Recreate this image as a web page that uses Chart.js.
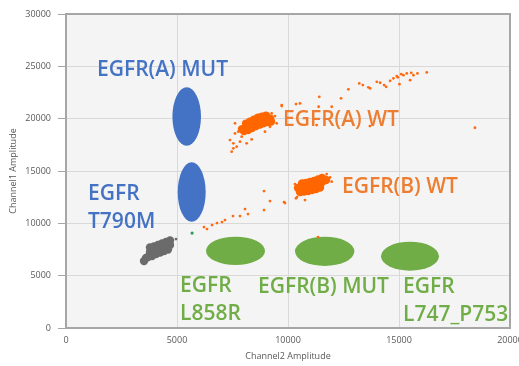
<!DOCTYPE html>
<html>
<head>
<meta charset="utf-8">
<script src="https://cdn.jsdelivr.net/npm/chart.js@4.4.0/dist/chart.umd.min.js"></script>
<style>
html, body { margin: 0; padding: 0; background: #fff; }
</style>
</head>
<body>
<canvas id="ddpcrCtx" width="519" height="366"></canvas>
<script>
// droplet amplitudes, [Channel2, Channel1]
var negCore = [
    [3514, 6399], [3604, 6685], [3694, 6781], [3784, 7258], [3964, 7354], [4145, 7497],
    [4325, 7640], [4505, 7783], [4685, 7927], [3784, 7688], [3964, 7783], [4145, 7927],
    [4325, 8070], [4505, 8213], [4685, 8356], [3874, 6876], [4054, 7067], [4235, 7210],
    [4415, 7354], [4595, 7497]
]
var negRain = [[4955, 8500], [3560, 6250], [4760, 8450]]
var greenDrop = [[5680, 9070]]

var aWtCore = [
    [7929, 19005], [8109, 19196], [8289, 19387], [8469, 19578], [8650, 19769], [8830, 19864],
    [9010, 19960], [9190, 20007], [8109, 19530], [8289, 19721], [8469, 19912], [8650, 20103],
    [8830, 20198], [9010, 20294], [8019, 18814], [8199, 18909], [8379, 19100], [8560, 19291],
    [8740, 19434], [8920, 19578], [9100, 19673], [9235, 19721]
]
var aWtRain = [
    [7613, 19551], [7387, 17956], [7463, 16843], [7538, 17640], [7688, 17320], [7838, 17798],
    [7913, 18275], [7613, 18594], [8138, 17640], [8363, 18021], [7538, 17163], [7763, 18753],
    [9264, 20504], [9414, 20248], [9715, 21299], [9189, 19226], [9490, 19551], [8964, 18753],
    [9720, 21200], [10360, 21390], [10540, 21460], [11410, 22090], [12390, 21940], [12720, 22800],
    [13210, 23370], [13370, 23210], [13620, 22990], [13700, 22890], [14000, 23520], [14150, 23430],
    [14330, 23210], [14420, 23040], [14600, 23620], [14750, 23850], [14900, 24070], [15020, 23300],
    [15200, 24160], [15350, 24320], [15500, 23680], [15650, 24160], [15830, 24320], [16250, 24420],
    [15100, 24250], [15550, 24380], [14950, 23950], [18420, 19130], [11380, 21140], [11970, 21140],
    [11290, 19390], [13690, 19290]
]

var bWtCore = [
    [10452, 13370], [10632, 13418], [10812, 13466], [10992, 13561], [11172, 13657], [11353, 13800],
    [11533, 13943], [11713, 14134], [10632, 13800], [10812, 13848], [10992, 13943], [11172, 14039],
    [11353, 14182], [11533, 14325], [10542, 12988], [10722, 13036], [10902, 13084], [11082, 13179],
    [11263, 13275], [11443, 13418]
]
var bWtRain = [
    [6216, 9647], [6351, 9456], [6577, 9838], [6802, 10029], [7027, 10124], [7162, 10315],
    [7523, 10697], [7838, 10697], [8063, 11366], [8198, 10888], [8919, 11270], [9189, 12130],
    [8919, 13085], [9820, 12034], [9865, 11939], [10405, 12512], [10315, 13754], [10360, 12385],
    [11592, 14518], [11892, 14390], [11967, 13977], [11742, 14709], [10766, 12226], [11353, 8690]
]

var xTicks = [0, 5000, 10000, 15000, 20000]
var yTicks = [0, 5000, 10000, 15000, 20000, 25000, 30000]

var BLUE = '#4472c4', ORANGE = '#ed7d31', GREEN = '#70ad47'

// cluster call-outs, in data units
var marks = [
    {x: 5437, y: 20200, rx: 644, ry: 2790, color: BLUE},
    {x: 5662, y: 12990, rx: 630, ry: 2835, color: BLUE},
    {x: 7635, y: 7375, rx: 1329, ry: 1355, color: GREEN},
    {x: 11652, y: 7326, rx: 1336, ry: 1400, color: GREEN},
    {x: 15495, y: 6860, rx: 1306, ry: 1385, color: GREEN}
]
var tags = [
    {text: 'EGFR(A) MUT', x: 1396, y: 24050, color: BLUE},
    {text: 'EGFR', x: 991, y: 12225, color: BLUE},
    {text: 'T790M', x: 991, y: 9551, color: BLUE},
    {text: 'EGFR(A) WT', x: 9775, y: 19293, color: ORANGE},
    {text: 'EGFR(B) WT', x: 12432, y: 12894, color: ORANGE},
    {text: 'EGFR', x: 5135, y: 3438, color: GREEN},
    {text: 'L858R', x: 5135, y: 764, color: GREEN},
    {text: 'EGFR(B) MUT', x: 8649, y: 3343, color: GREEN},
    {text: 'EGFR', x: 15180, y: 3343, color: GREEN},
    {text: 'L747_P753', x: 15180, y: 669, color: GREEN}
]

function pts(arr) {
    return arr.map(function(p) { return {x: p[0], y: p[1]} })
}

function series(arr, color, r) {
    return {
        data: pts(arr),
        backgroundColor: color,
        pointBackgroundColor: color,
        pointBorderWidth: 0,
        borderWidth: 0,
        pointRadius: r,
        pointHoverRadius: r
    }
}

var plotDeco = {
    id: 'plotDeco',
    beforeDraw: function(chart) {
        var a = chart.chartArea, c = chart.ctx
        c.save()
        c.fillStyle = '#f4f4f4'
        c.fillRect(a.left, a.top, a.right - a.left, a.bottom - a.top)
        c.restore()
    },
    beforeDatasetsDraw: function(chart) {
        var c = chart.ctx, sx = chart.scales.x, sy = chart.scales.y
        c.save()
        marks.forEach(function(m) {
            var cx = sx.getPixelForValue(m.x), cy = sy.getPixelForValue(m.y)
            var rx = Math.abs(sx.getPixelForValue(m.x + m.rx) - cx)
            var ry = Math.abs(sy.getPixelForValue(m.y + m.ry) - cy)
            c.beginPath()
            c.ellipse(cx, cy, rx, ry, 0, 0, Math.PI * 2)
            c.fillStyle = m.color
            c.fill()
        })
        c.restore()
    },
    afterDatasetsDraw: function(chart) {
        var a = chart.chartArea, c = chart.ctx
        c.save()
        c.strokeStyle = '#a6a6a6'
        c.lineWidth = 2
        c.strokeRect(a.left, a.top, a.right - a.left, a.bottom - a.top)
        c.restore()
    },
    afterDraw: function(chart) {
        var c = chart.ctx, sx = chart.scales.x, sy = chart.scales.y
        c.save()
        c.font = '600 21px "Open Sans"'
        c.textBaseline = 'alphabetic'
        c.textAlign = 'left'
        tags.forEach(function(t) {
            c.fillStyle = t.color
            c.fillText(t.text, sx.getPixelForValue(t.x), sy.getPixelForValue(t.y))
        })
        c.restore()
    }
}

var tickFont = {family: '"Open Sans"', size: 9}

new Chart(document.getElementById('ddpcrCtx'), {
    type: 'scatter',
    data: {
        datasets: [
            series(negCore, '#6b6b6b', 4.2),
            series(negRain, '#6b6b6b', 1.4),
            series(greenDrop, '#2f9a55', 1.6),
            series(aWtCore, '#ff6600', 4.2),
            series(aWtRain, '#ff6a10', 1.4),
            series(bWtCore, '#ff6600', 4.2),
            series(bWtRain, '#ff6a10', 1.4)
        ]
    },
    options: {
        responsive: false,
        animation: false,
        devicePixelRatio: 1,
        layout: {padding: {top: 14, right: 9, left: 0, bottom: 0}},
        plugins: {legend: {display: false}, tooltip: {enabled: false}},
        scales: {
            x: {
                type: 'linear', min: 0, max: 20000,
                afterBuildTicks: function(s) { s.ticks = xTicks.map(function(v) { return {value: v} }) },
                afterFit: function(s) { s.height = 38; s.paddingLeft = 0; s.paddingRight = 0 },
                ticks: {font: tickFont, color: '#595959', padding: 7, maxRotation: 0,
                    callback: function(v) { return String(v) }},
                grid: {color: '#d9d9d9', lineWidth: 1, drawTicks: false},
                border: {display: false},
                title: {display: true, text: 'Channel2 Amplitude', font: tickFont, color: '#595959',
                    padding: {top: 0, bottom: 4}}
            },
            y: {
                type: 'linear', min: 0, max: 30000,
                afterBuildTicks: function(s) { s.ticks = yTicks.map(function(v) { return {value: v} }) },
                afterFit: function(s) { s.width = 66; s.paddingTop = 0; s.paddingBottom = 0 },
                ticks: {font: tickFont, color: '#595959', padding: 7,
                    callback: function(v) { return String(v) }},
                grid: {color: '#d9d9d9', lineWidth: 1, tickLength: 8, tickColor: '#a6a6a6'},
                border: {display: false},
                title: {display: true, text: 'Channel1 Amplitude', font: tickFont, color: '#595959',
                    padding: {top: 8, bottom: 0}}
            }
        }
    },
    plugins: [plotDeco]
})
</script>
</body>
</html>
